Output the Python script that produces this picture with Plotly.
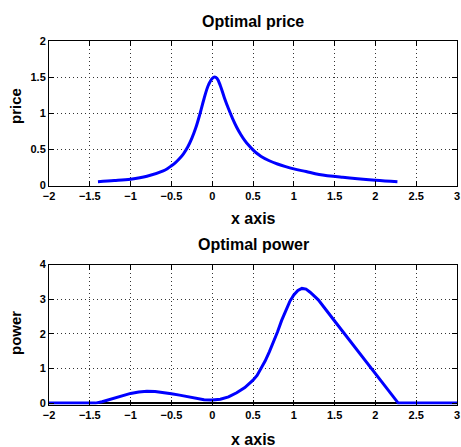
import plotly.graph_objects as go

# ---- data ----
price_x = [-1.4, -1.2, -1.0, -0.8, -0.6, -0.55, -0.5, -0.45, -0.4, -0.35, -0.3, -0.25, -0.2, -0.15,
           -0.1, -0.05, 0.0, 0.03, 0.06, 0.1, 0.15, 0.2, 0.25, 0.3, 0.35, 0.4, 0.45, 0.5, 0.55, 0.6,
           0.7, 0.8, 0.9, 1.0, 1.15, 1.31, 1.6, 2.0, 2.27]
price_y = [0.05, 0.065, 0.085, 0.125, 0.2, 0.23, 0.27, 0.315, 0.37, 0.44, 0.53, 0.65, 0.8, 0.99,
           1.2, 1.38, 1.48, 1.5, 1.48, 1.38, 1.21, 1.06, 0.925, 0.805, 0.705, 0.62, 0.55, 0.49, 0.44, 0.4,
           0.34, 0.295, 0.258, 0.227, 0.19, 0.15, 0.11, 0.07, 0.05]

power_x = [-2.0, -1.43, -1.35, -1.3, -1.2, -1.1, -1.0, -0.9, -0.8, -0.7, -0.6, -0.5, -0.4, -0.3,
           -0.2, -0.1, 0.0, 0.1, 0.2, 0.3, 0.4, 0.5, 0.55, 0.6, 0.65, 0.7, 0.75, 0.8, 0.85, 0.9,
           0.95, 1.0, 1.05, 1.1, 1.15, 1.2, 1.3, 1.5, 2.0, 2.28, 3.0]
power_y = [0.0, 0.0, 0.04, 0.075, 0.15, 0.22, 0.28, 0.32, 0.34, 0.335, 0.31, 0.27, 0.23, 0.18,
           0.135, 0.1, 0.088, 0.11, 0.18, 0.3, 0.45, 0.66, 0.8, 1.0, 1.22, 1.48, 1.76, 2.05, 2.38, 2.68,
           2.93, 3.12, 3.25, 3.31, 3.29, 3.2, 2.98, 2.37, 0.84, 0.0, 0.0]

x_ticks = [-2, -1.5, -1, -0.5, 0, 0.5, 1, 1.5, 2, 2.5, 3]
x_ticktext = ["\u22122", "\u22121.5", "\u22121", "\u22120.5", "0", "0.5", "1", "1.5", "2", "2.5", "3"]
price_ticks = [0, 0.5, 1, 1.5, 2]
price_ticktext = ["0", "0.5", "1", "1.5", "2"]
power_ticks = [0, 1, 2, 3, 4]

titles = ["Optimal price", "Optimal power"]
ylabels = ["price", "power"]
xlabel = "x axis"

W, H = 461, 447
BLUE = "#0000FF"
SANS = "Liberation Sans, Arial, Helvetica, sans-serif"

fig = go.Figure()
fig.add_trace(go.Scatter(x=price_x, y=price_y, mode="lines",
                         line=dict(color=BLUE, width=3, shape="spline", smoothing=1.0),
                         xaxis="x", yaxis="y", showlegend=False, hoverinfo="skip"))
fig.add_trace(go.Scatter(x=power_x, y=power_y, mode="lines",
                         line=dict(color=BLUE, width=3),
                         xaxis="x2", yaxis="y2", showlegend=False, hoverinfo="skip"))

xdom = [49 / W, 457 / W]
ydom1 = [1 - 186 / H, 1 - 41 / H]
ydom2 = [1 - 404.5 / H, 1 - 264.5 / H]

common = dict(showline=True, linecolor="black", linewidth=1, mirror="ticks", ticks="inside",
              ticklen=5, tickcolor="black", showgrid=True, gridcolor="#333333", gridwidth=1,
              griddash="1px,3px", automargin=False,
              tickfont=dict(family=SANS, size=11, color="black", weight="bold"),
              zeroline=False)

fig.update_layout(
    width=W, height=H, margin=dict(l=0, r=0, t=0, b=0),
    paper_bgcolor="white", plot_bgcolor="white",
    xaxis=dict(domain=xdom, anchor="y", range=[-2, 3], tickvals=x_ticks, ticktext=x_ticktext, **common),
    yaxis=dict(domain=ydom1, anchor="x", range=[-0.01, 2], tickvals=price_ticks, ticktext=price_ticktext, **common),
    xaxis2=dict(domain=xdom, anchor="y2", range=[-2, 3], tickvals=x_ticks, ticktext=x_ticktext, **common),
    yaxis2=dict(domain=ydom2, anchor="x2", range=[-0.04, 4], tickvals=power_ticks, **common),
)
fig.update_yaxes(zeroline=True, zerolinecolor="black", zerolinewidth=2)

ann = []
for t, yc in zip(titles, [21, 245]):
    ann.append(dict(text=t, x=(49 + 457) / 2 / W, y=1 - yc / H, xref="paper", yref="paper",
                    xanchor="center", yanchor="middle", showarrow=False,
                    font=dict(family=SANS, size=16, color="black", weight="bold")))
for yc in [218, 439]:
    ann.append(dict(text=xlabel, x=(49 + 457) / 2 / W, y=1 - yc / H, xref="paper", yref="paper",
                    xanchor="center", yanchor="middle", showarrow=False,
                    font=dict(family=SANS, size=16, color="black", weight="bold")))
for t, yc in zip(ylabels, [106, 333]):
    ann.append(dict(text=t, x=15 / W, y=1 - yc / H, xref="paper", yref="paper",
                    xanchor="center", yanchor="middle", textangle=-90, showarrow=False,
                    font=dict(family=SANS, size=15, color="black", weight="bold")))
fig.update_layout(annotations=ann)

fig.write_html("out.html", config={"displayModeBar": False},
               post_script="document.body.style.margin='0';document.body.style.overflow='hidden';")
